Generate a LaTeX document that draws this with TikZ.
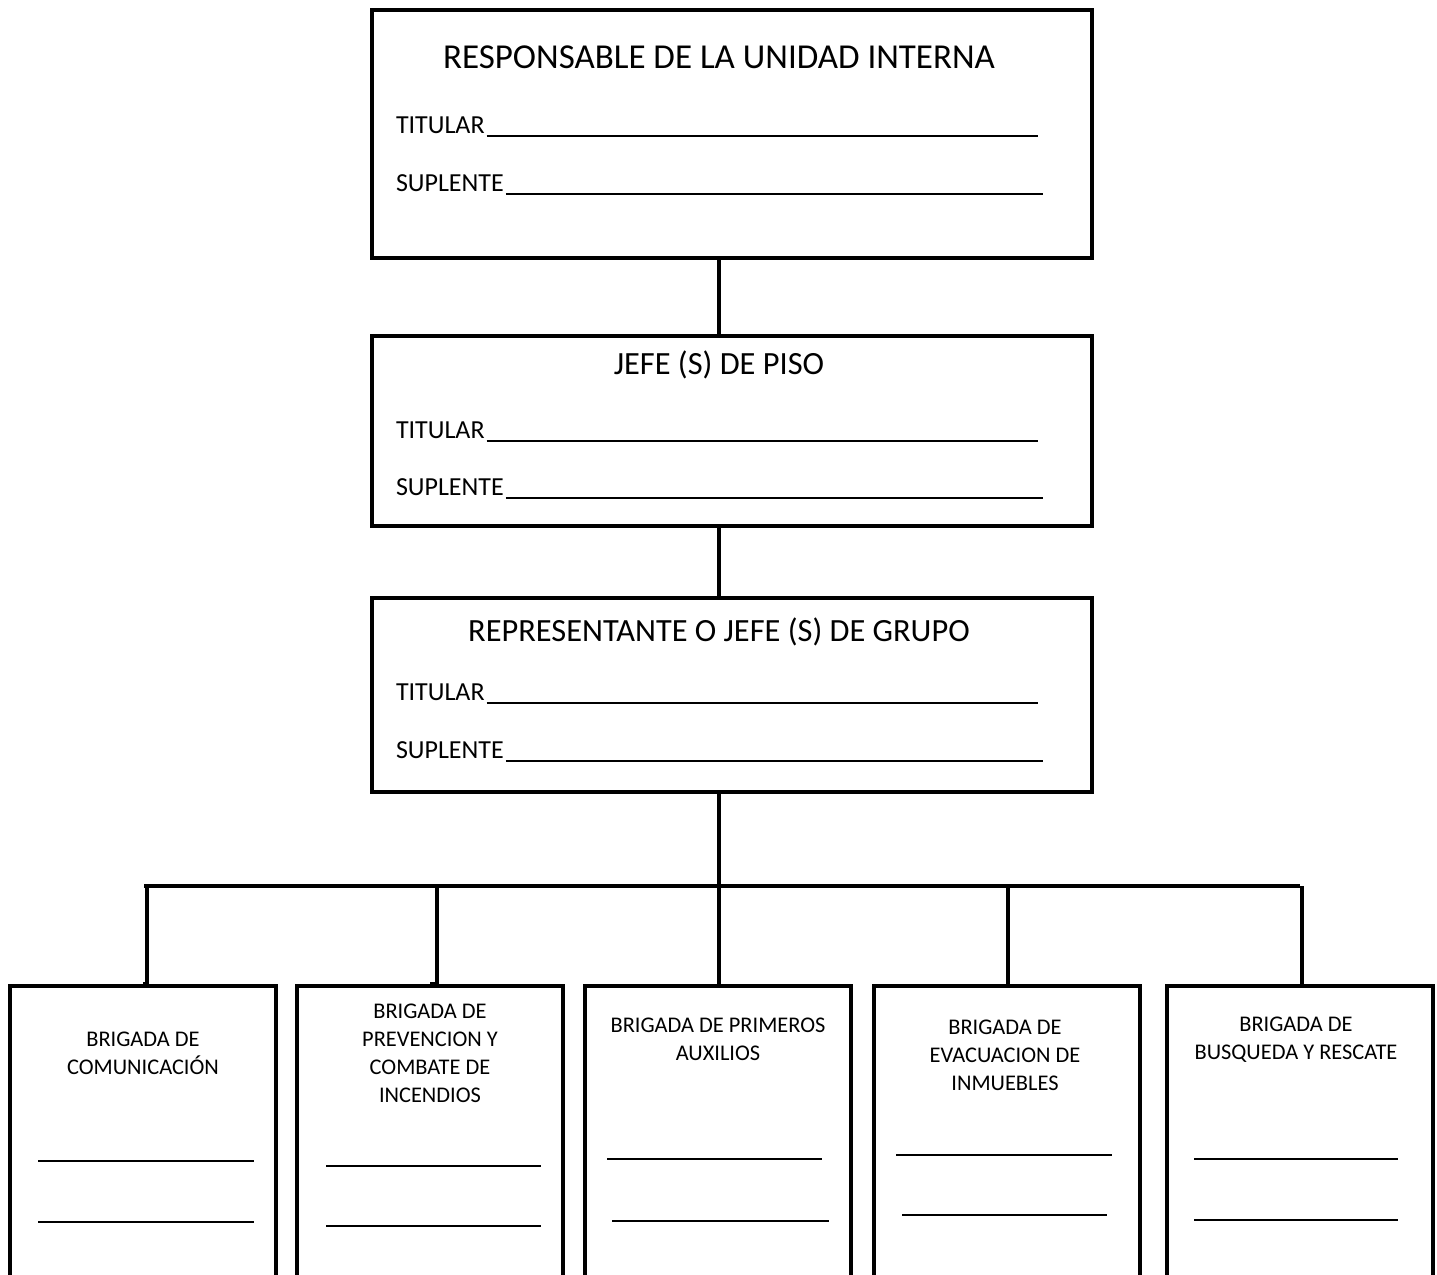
\documentclass[tikz,border=0pt]{standalone}
\usepackage{fontspec}
\setmainfont{Carlito}
\begin{document}
\begin{tikzpicture}
[x=0.5pt,y=-0.5pt,line width=2pt,
 box/.style={draw,rectangle,line width=2pt,inner sep=0pt},
 bigbox/.style={box,minimum width=360pt},
 brigbox/.style={box,minimum width=133pt,minimum height=170pt},
 title/.style={inner sep=0pt,font=\fontsize{17.5}{21}\selectfont},
 subtitle/.style={inner sep=0pt,font=\fontsize{16.2}{19}\selectfont},
 lbl/.style={inner sep=0pt,anchor=west,font=\fontsize{13}{16}\selectfont},
 btxt/.style={inner sep=0pt,anchor=north,align=center,font=\fontsize{11.2}{14}\selectfont},
 rule/.style={line width=1pt}]

  \useasboundingbox (0,0) rectangle (1437,1275);
  \clip (0,0) rectangle (1437,1275);

  % upper boxes
  \node[bigbox,minimum height=124pt] (r1) at (732,134) {};
  \node[bigbox,minimum height=95pt] (r2) at (732,431) {};
  \node[bigbox,minimum height=97pt] (r3) at (732,695) {};

  \node[title] (t1) at (719,57) {RESPONSABLE DE LA UNIDAD INTERNA};
  \node[subtitle] (t2) at (719,365) {JEFE (S) DE PISO};
  \node[subtitle] (t3) at (719,632) {REPRESENTANTE O JEFE (S) DE GRUPO};

  \coordinate (endT) at (1038,0);
  \coordinate (endS) at (1043,0);
  \foreach \n/\ty/\sy in {1/125/183, 2/430/487, 3/692/750} {
    \node[lbl] (tit\n) at (394,\ty) {TITULAR};
    \node[lbl] (sup\n) at (394,\sy) {SUPLENTE};
    \draw[rule] ([yshift=-1.5pt]tit\n.base east) -- ([yshift=-1.5pt]tit\n.base east -| endT);
    \draw[rule] ([yshift=-1.5pt]sup\n.base east) -- ([yshift=-1.5pt]sup\n.base east -| endS);
  }

  % brigades
  \node[brigbox] (b1) at (143,1156) {};
  \node[brigbox] (b2) at (430,1156) {};
  \node[brigbox] (b3) at (718,1156) {};
  \node[brigbox] (b4) at (1007,1156) {};
  \node[brigbox] (b5) at (1300,1156) {};

  \node[btxt] (l1) at (143,1030) {BRIGADA DE\\COMUNICACIÓN};
  \node[btxt] (l2) at (430,1002) {BRIGADA DE\\PREVENCION Y\\COMBATE DE\\INCENDIOS};
  \node[btxt] (l3) at (718,1016) {BRIGADA DE PRIMEROS\\AUXILIOS};
  \node[btxt] (l4) at (1005,1018) {BRIGADA DE\\EVACUACION DE\\INMUEBLES};
  \node[btxt] (l5) at (1296,1015) {BRIGADA DE\\BUSQUEDA Y RESCATE};

  \foreach \xa/\xb/\y in {38/254/1161, 38/254/1222, 326/541/1166, 326/541/1226,
      607/822/1159, 612/829/1221, 896/1112/1155, 902/1107/1215,
      1194/1398/1159, 1194/1398/1220}
    \draw[rule] (\xa,\y) -- (\xb,\y);

  % connectors
  \coordinate (spine) at (719,886);
  \coordinate (barL) at (144,886);
  \coordinate (barR) at (1300,886);
  \draw (r1.south -| spine) -- (r2.north -| spine);
  \draw (r2.south -| spine) -- (r3.north -| spine);
  \draw (r3.south -| spine) -- (spine);
  \draw (barL) -- (barR);
  \foreach \b/\x in {b1/147,b2/437,b3/719,b4/1008,b5/1302} {
    \coordinate (d\b) at (\x,886);
    \draw (d\b) |- (\b.north);
  }

\end{tikzpicture}
\end{document}
